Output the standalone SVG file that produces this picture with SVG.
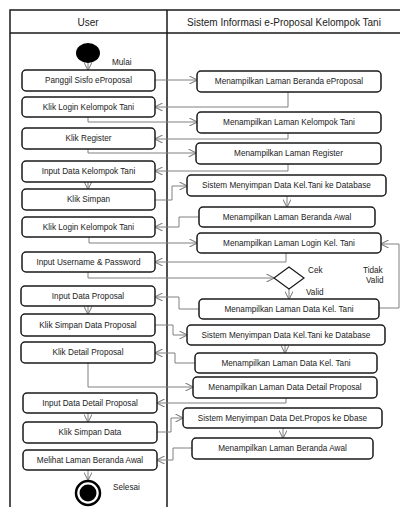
<svg xmlns="http://www.w3.org/2000/svg" width="400" height="507" viewBox="0 0 400 507">
<style>
.frame{stroke:#1a1a1a;stroke-width:1.5;fill:none}
.box{fill:#fff;stroke:#1a1a1a;stroke-width:1.5}
.t{font-family:"Liberation Sans",Arial,sans-serif;font-size:8.2px;fill:#222;text-anchor:middle;dominant-baseline:central}
.h{font-family:"Liberation Sans",Arial,sans-serif;font-size:10px;fill:#222;text-anchor:middle;dominant-baseline:central}
.l{font-family:"Liberation Sans",Arial,sans-serif;font-size:8.2px;fill:#222}
.c{fill:none;stroke:#808080;stroke-width:1;marker-end:url(#a)}
</style>
<defs>
<marker id="a" viewBox="0 0 10 10" refX="9.5" refY="5" markerWidth="8" markerHeight="8" markerUnits="userSpaceOnUse" orient="auto">
<path d="M0,0 L10,5 L0,10" fill="none" stroke="#808080" stroke-width="1.3"/>
</marker>
</defs>
<rect width="400" height="507" fill="#fff"/>
<g id="frame">
<path class="frame" d="M10,507 V10 H402 M10,33 H402 M167,10 V507"/>
<text class="h" x="88" y="22">User</text>
<text class="h" x="284" y="22">Sistem Informasi e-Proposal Kelompok Tani</text>
</g>
<g id="connectors">
<path class="c" d="M88,63 V70"/>
<path class="c" d="M155,80 H197"/>
<path class="c" d="M288,92 V107 H155"/>
<path class="c" d="M88,117 V122 H197"/>
<path class="c" d="M288,133 V139 H155"/>
<path class="c" d="M88,149 V153 H196"/>
<path class="c" d="M288,164 V171 H155"/>
<path class="c" d="M88,182 V189"/>
<path class="c" d="M155,200 H172 V186 H187"/>
<path class="c" d="M287,196 V207"/>
<path class="c" d="M199,217 H179 V227 H155"/>
<path class="c" d="M89,237 V243 H197"/>
<path class="c" d="M286,253 V262 H155"/>
<path class="c" d="M88,272 V278 H274"/>
<path class="c" d="M289,289 V299"/>
<path class="c" d="M379,308 H399 V244 H381"/>
<path class="c" d="M199,309 H179 V297 H155"/>
<path class="c" d="M88,306 V314"/>
<path class="c" d="M155,325 H173 V335 H187"/>
<path class="c" d="M285,345 V353"/>
<path class="c" d="M195,363 H175 V353 H155"/>
<path class="c" d="M88,363 V387 H193"/>
<path class="c" d="M286,398 V403 H157"/>
<path class="c" d="M88,413 V422"/>
<path class="c" d="M157,432 H171 V418 H183"/>
<path class="c" d="M283,428 V438"/>
<path class="c" d="M192,448 H173 V460 H157"/>
<path class="c" d="M88,470 V480"/>
</g>
<g id="start"><ellipse cx="88" cy="53" rx="12" ry="10" fill="#000"/><text class="l" x="112" y="65">Mulai</text></g>
<g id="u1"><rect class="box" x="22" y="70" width="133" height="21" rx="4"/><text class="t" x="88.5" y="80.5">Panggil Sisfo eProposal</text></g>
<g id="u2"><rect class="box" x="22" y="97" width="133" height="20" rx="4"/><text class="t" x="88.5" y="107">Klik Login Kelompok Tani</text></g>
<g id="u3"><rect class="box" x="22" y="128" width="133" height="21" rx="4"/><text class="t" x="88.5" y="138.5">Klik Register</text></g>
<g id="u4"><rect class="box" x="22" y="161" width="133" height="21" rx="4"/><text class="t" x="88.5" y="171.5">Input Data Kelompok Tani</text></g>
<g id="u5"><rect class="box" x="22" y="189" width="133" height="21" rx="4"/><text class="t" x="88.5" y="199.5">Klik Simpan</text></g>
<g id="u6"><rect class="box" x="22" y="217" width="133" height="20" rx="4"/><text class="t" x="88.5" y="227">Klik Login Kelompok Tani</text></g>
<g id="u7"><rect class="box" x="22" y="252" width="133" height="20" rx="4"/><text class="t" x="88.5" y="262">Input Username &amp; Password</text></g>
<g id="u8"><rect class="box" x="21" y="286" width="134" height="20" rx="4"/><text class="t" x="88" y="296">Input Data Proposal</text></g>
<g id="u9"><rect class="box" x="21" y="314" width="134" height="22" rx="4"/><text class="t" x="88" y="325">Klik Simpan Data Proposal</text></g>
<g id="u10"><rect class="box" x="21" y="342" width="134" height="21" rx="4"/><text class="t" x="88" y="352.5">Klik Detail Proposal</text></g>
<g id="u11"><rect class="box" x="23" y="393" width="134" height="20" rx="4"/><text class="t" x="90" y="403">Input Data Detail Proposal</text></g>
<g id="u12"><rect class="box" x="23" y="422" width="134" height="21" rx="4"/><text class="t" x="90" y="432.5">Klik Simpan Data</text></g>
<g id="u13"><rect class="box" x="23" y="450" width="134" height="20" rx="4"/><text class="t" x="90" y="460">Melihat Laman Beranda Awal</text></g>
<g id="end"><circle cx="88" cy="493" r="12" fill="#fff" stroke="#000" stroke-width="2.5"/><circle cx="88" cy="493" r="8.5" fill="#000"/><text class="l" x="113" y="490">Selesai</text></g>
<g id="s1"><rect class="box" x="197" y="71" width="184" height="21" rx="4"/><text class="t" x="289" y="81.5">Menampilkan Laman Beranda eProposal</text></g>
<g id="s2"><rect class="box" x="197" y="112" width="184" height="21" rx="4"/><text class="t" x="289" y="122.5">Menampilkan Laman Kelompok Tani</text></g>
<g id="s3"><rect class="box" x="196" y="143" width="185" height="21" rx="4"/><text class="t" x="288.5" y="153.5">Menampilkan Laman Register</text></g>
<g id="s4"><rect class="box" x="187" y="175" width="199" height="21" rx="4"/><text class="t" x="286.5" y="185.5">Sistem Menyimpan Data Kel.Tani ke Database</text></g>
<g id="s5"><rect class="box" x="199" y="207" width="176" height="20" rx="4"/><text class="t" x="287" y="217">Menampilkan Laman Beranda Awal</text></g>
<g id="s6"><rect class="box" x="197" y="233" width="184" height="20" rx="4"/><text class="t" x="289" y="243">Menampilkan Laman Login Kel. Tani</text></g>
<g id="cek"><path d="M289,267 L304,278 L289,289 L274,278 Z" fill="#fff" stroke="#1a1a1a" stroke-width="1.2"/><text class="l" x="308" y="273">Cek</text><text class="l" x="306" y="295">Valid</text><text class="l" x="363" y="273">Tidak</text><text class="l" x="366" y="283">Valid</text></g>
<g id="s7"><rect class="box" x="199" y="299" width="180" height="20" rx="4"/><text class="t" x="289" y="309">Menampilkan Laman Data Kel. Tani</text></g>
<g id="s8"><rect class="box" x="187" y="325" width="198" height="20" rx="4"/><text class="t" x="286" y="335">Sistem Menyimpan Data Kel.Tani ke Database</text></g>
<g id="s9"><rect class="box" x="195" y="353" width="182" height="20" rx="4"/><text class="t" x="286" y="363">Menampilkan Laman Data Kel. Tani</text></g>
<g id="s10"><rect class="box" x="193" y="377" width="184" height="21" rx="4"/><text class="t" x="285" y="387.5">Menampilkan Laman Data Detail Proposal</text></g>
<g id="s11"><rect class="box" x="183" y="408" width="199" height="20" rx="4"/><text class="t" x="282.5" y="418">Sistem Menyimpan Data Det.Propos ke Dbase</text></g>
<g id="s12"><rect class="box" x="192" y="438" width="181" height="21" rx="4"/><text class="t" x="282.5" y="448.5">Menampilkan Laman Beranda Awal</text></g>
</svg>
